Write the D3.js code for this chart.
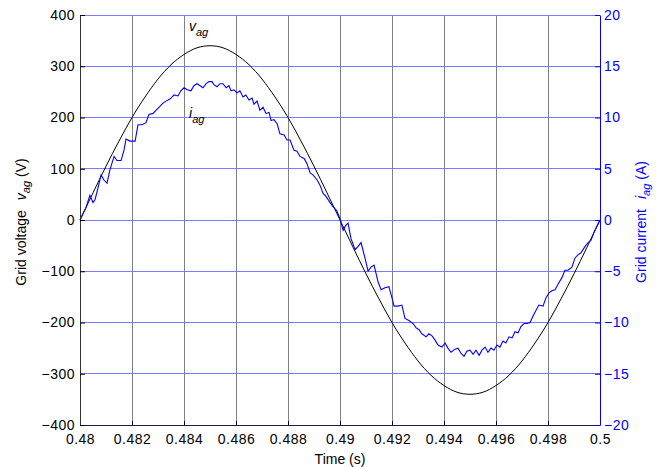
<!DOCTYPE html>
<html><head><meta charset="utf-8">
<script src="https://cdn.jsdelivr.net/npm/d3@7"></script>
<style>
body{margin:0;background:#fff;}
svg text{font-family:"Liberation Sans",Arial,Helvetica,sans-serif;}
</style></head><body>
<svg id="c" width="662" height="467"></svg>
<script>
// ---- data ----
const xTicks = [0.48,0.482,0.484,0.486,0.488,0.49,0.492,0.494,0.496,0.498,0.5];
const xTickLabels = ["0.48","0.482","0.484","0.486","0.488","0.49","0.492","0.494","0.496","0.498","0.5"];
const vTicks = [-400,-300,-200,-100,0,100,200,300,400];
const iTicks = [-20,-15,-10,-5,0,5,10,15,20];

// grid voltage v_ag (V), sampled every 0.5 ms
const vTime = [0.48,0.4805,0.481,0.4815,0.482,0.4825,0.483,0.4835,0.484,0.4845,0.485,0.4855,0.486,0.4865,0.487,0.4875,0.488,0.4885,0.489,0.4895,0.49,
  0.4905,0.491,0.4915,0.492,0.4925,0.493,0.4935,0.494,0.4945,0.495,0.4955,0.496,0.4965,0.497,0.4975,0.498,0.4985,0.499,0.4995,0.5];
const vValues = [0,53,105,154,200,240,275,303,323,336,340,336,323,303,275,240,200,154,105,53,0,
  -53,-105,-154,-200,-240,-275,-303,-323,-336,-340,-336,-323,-303,-275,-240,-200,-154,-105,-53,0];

// grid current i_ag (A)
const iTime = [0.48,0.48015,0.48023,0.48038,0.4805,0.48058,0.48069,0.48081,0.48092,0.48104,0.48115,0.48131,0.48142,0.48158,0.48169,0.48177,0.48192,0.48212,0.48223,0.48238,
  0.48254,0.48265,0.48281,0.48292,0.48308,0.48319,0.48331,0.48346,0.48362,0.48377,0.48388,0.484,0.48412,0.48427,0.48438,0.4845,0.48462,0.48473,0.48485,0.48496,
  0.48508,0.48515,0.48527,0.48538,0.4855,0.48562,0.48573,0.48581,0.48592,0.48604,0.48615,0.48627,0.48638,0.4865,0.48662,0.48669,0.48681,0.48692,0.48704,0.48715,
  0.48727,0.48735,0.48746,0.48758,0.48769,0.48785,0.48796,0.48808,0.48823,0.48835,0.48846,0.48862,0.48873,0.48885,0.48896,0.48912,0.48923,0.48935,0.48946,0.48962,
  0.48973,0.48988,0.49,0.49012,0.49023,0.49031,0.49042,0.49058,0.49069,0.49081,0.49096,0.49108,0.49119,0.49131,0.49146,0.49158,0.49173,0.49188,0.492,0.49208,
  0.49223,0.49238,0.4925,0.49265,0.49281,0.49292,0.49304,0.49315,0.49331,0.49342,0.49354,0.49365,0.49377,0.49392,0.49404,0.49415,0.49427,0.49442,0.49454,0.49465,
  0.49477,0.49488,0.495,0.49512,0.49523,0.49535,0.49546,0.49558,0.49569,0.49581,0.49592,0.49604,0.49615,0.49627,0.49638,0.4965,0.49662,0.49673,0.49685,0.49696,
  0.49708,0.49719,0.49731,0.49742,0.49754,0.49765,0.49781,0.49792,0.49804,0.49815,0.49827,0.49838,0.49854,0.49865,0.49877,0.49892,0.49904,0.49915,0.49927,0.49942,
  0.49954,0.49965,0.49977,0.49988,0.5];
const iValues = [0,0.8,1.2,2.4,1.7,2.0,3.1,4.4,3.9,3.6,4.9,6.2,5.8,5.8,6.8,7.9,7.7,7.7,9.3,9.3,
  9.5,10.3,10.4,10.7,11.1,11.4,11.6,11.8,12.2,12.1,12.6,12.9,12.7,12.6,13.1,13.3,13.1,12.9,13.3,13.5,
  13.5,13.2,13.0,13.3,13.3,12.9,13.1,12.6,12.7,12.4,12.6,12.0,12.2,11.7,11.9,11.3,11.6,10.7,11.0,10.4,
  10.5,9.7,9.8,9.4,8.4,8.3,7.8,7.8,6.8,6.7,6.2,6.0,5.5,4.6,4.4,3.9,3.4,2.6,2.3,1.7,
  1.3,0.9,0.1,-1.0,-0.5,-0.3,-1.8,-2.9,-2.6,-2.2,-3.7,-5.0,-4.6,-4.4,-6.0,-6.8,-6.6,-6.5,-7.6,-8.4,
  -8.4,-8.3,-9.6,-9.8,-10.1,-10.5,-10.7,-11.1,-11.4,-11.1,-11.3,-11.7,-12.2,-12.4,-12.0,-12.5,-12.9,-12.6,-12.5,-13.0,
  -13.3,-12.8,-12.7,-13.1,-12.7,-13.2,-12.7,-12.4,-12.9,-12.5,-12.7,-12.2,-12.4,-11.8,-12.0,-11.4,-11.5,-10.9,-11.0,-10.4,
  -10.1,-10.1,-10.0,-9.4,-8.8,-8.3,-8.4,-7.6,-7.1,-6.9,-6.8,-6.3,-5.6,-4.9,-4.9,-4.6,-3.7,-3.4,-3.2,-2.6,
  -2.2,-2.0,-1.2,-0.6,0];

// ---- chart ----
const W = 662, H = 467;
const m = {left:80, right:62, top:15, bottom:42};
const svg = d3.select("#c");
const x = d3.scaleLinear().domain([0.48,0.5]).range([m.left, W-m.right]);
const yV = d3.scaleLinear().domain([-400,400]).range([H-m.bottom, m.top]);
const yI = d3.scaleLinear().domain([-20,20]).range([H-m.bottom, m.top]);
const blue = "#0000ff";

// grid
svg.append("g").selectAll("line").data(xTicks.slice(1,-1)).join("line")
  .attr("x1",d=>x(d)).attr("x2",d=>x(d)).attr("y1",m.top).attr("y2",H-m.bottom)
  .attr("stroke","#808080").attr("stroke-width",1).attr("shape-rendering","crispEdges");
svg.append("g").selectAll("line").data(iTicks).join("line")
  .attr("x1",m.left).attr("x2",W-m.right).attr("y1",d=>yI(d)).attr("y2",d=>yI(d))
  .attr("stroke","#7b7bff").attr("stroke-width",1).attr("shape-rendering","crispEdges");

// lines
const vLine = d3.line().x((d,k)=>x(vTime[k])).y(d=>yV(d)).curve(d3.curveNatural);
svg.append("path").datum(vValues).attr("d",vLine).attr("fill","none").attr("stroke","#000").attr("stroke-width",1);
const iLine = d3.line().x((d,k)=>x(iTime[k])).y(d=>yI(d));
svg.append("path").datum(iValues).attr("d",iLine).attr("fill","none").attr("stroke",blue).attr("stroke-width",1.1);

// axes
const fs = 14;
const ax = svg.append("g").attr("transform",`translate(0,${H-m.bottom})`)
  .call(d3.axisBottom(x).tickValues(xTicks).tickFormat((d,k)=>xTickLabels[k]).tickSizeInner(-4).tickSizeOuter(0).tickPadding(9));
ax.select(".domain").attr("stroke","#1a1a5a");
ax.selectAll(".tick line").attr("stroke","#000");
ax.selectAll("text").attr("font-size",fs).attr("letter-spacing",0.5).attr("fill","#000");

const al = svg.append("g").attr("transform",`translate(${m.left},0)`)
  .call(d3.axisLeft(yV).tickValues(vTicks).tickSizeInner(-5).tickSizeOuter(0).tickPadding(5));
al.select(".domain").attr("stroke","#333");
al.selectAll(".tick line").attr("stroke","#000");
al.selectAll("text").attr("font-size",fs).attr("letter-spacing",0.5).attr("fill","#000");

const ar = svg.append("g").attr("transform",`translate(${W-m.right},0)`)
  .call(d3.axisRight(yI).tickValues(iTicks).tickSizeInner(-5).tickSizeOuter(0).tickPadding(4));
ar.select(".domain").attr("stroke",blue);
ar.selectAll(".tick line").attr("stroke",blue);
ar.selectAll("text").attr("font-size",fs).attr("letter-spacing",0.5).attr("fill",blue);

// axis labels
svg.append("text").attr("x",(m.left+W-m.right)/2).attr("y",464).attr("text-anchor","middle")
  .attr("font-size",fs).text("Time (s)");

function subLabel(g, pre, sym, sub, post, color){
  const t = g.append("text").attr("fill",color).attr("font-size",fs).attr("text-anchor","middle");
  t.append("tspan").text(pre);
  t.append("tspan").attr("dx",10).attr("font-style","italic").text(sym);
  t.append("tspan").attr("font-style","italic").attr("font-size",11).attr("dy",4).text(sub);
  t.append("tspan").attr("dy",-4).text(" (" + post + ")");
  return t;
}
subLabel(svg.append("g").attr("transform","translate(26,222) rotate(-90)"),"Grid voltage","v","ag","V","#000");
subLabel(svg.append("g").attr("transform","translate(646,222) rotate(-90)"),"Grid current","i","ag","A",blue);

// annotations
function annot(px, py, sym){
  const t = svg.append("text").attr("x",px).attr("y",py).attr("font-size",fs).attr("font-style","italic");
  t.append("tspan").text(sym);
  t.append("tspan").attr("font-size",11).attr("dy",5).text("ag");
}
annot(189, 31, "v");
annot(189, 118, "i");
</script>
</body></html>
